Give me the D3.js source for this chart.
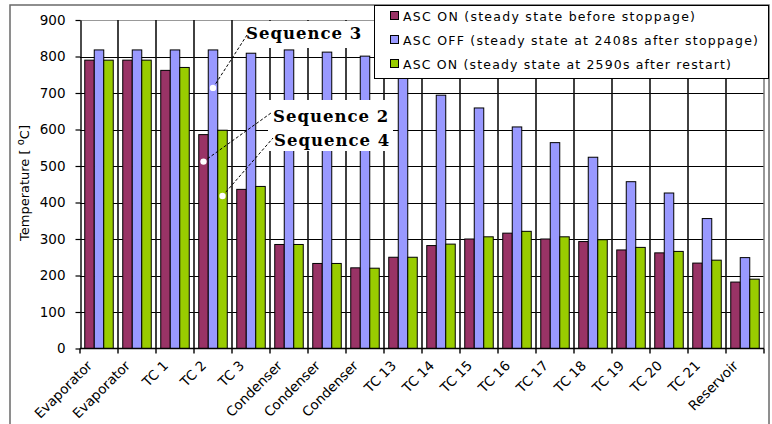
<!DOCTYPE html>
<html>
<head>
<meta charset="utf-8">
<script src="https://cdn.jsdelivr.net/npm/d3@7"></script>
<style>
  html, body { margin: 0; padding: 0; background: #fff; }
  svg { display: block; }
</style>
</head>
<body>
<svg id="chart" width="772" height="424"></svg>
<script>
// Measuring points along the loop, left to right
const categories = ["Evaporator", "Evaporator", "TC 1", "TC 2", "TC 3", "Condenser", "Condenser", "Condenser",
  "TC 13", "TC 14", "TC 15", "TC 16", "TC 17", "TC 18", "TC 19", "TC 20", "TC 21", "Reservoir"];

// Temperatures in °C
const ascOnBefore  = [790, 790, 762, 586, 436, 285, 233, 221, 250, 282, 300, 316, 300, 293, 270, 262, 234, 182];
const ascOffAfter  = [818, 818, 818, 818, 809, 818, 812, 801, 748, 694, 659, 607, 564, 524, 457, 426, 356, 249];
const ascOnRestart = [790, 790, 770, 598, 444, 285, 233, 220, 250, 286, 306, 321, 306, 298, 277, 266, 242, 190];

const seriesNames = [
  "ASC ON (steady state before stoppage)",
  "ASC OFF (steady state at 2408s after stoppage)",
  "ASC ON (steady state at 2590s after restart)"
];
const seriesColors = ["#993366", "#9999ff", "#99cc00"];
const seriesValues = [ascOnBefore, ascOffAfter, ascOnRestart];

const yTicks = [0, 100, 200, 300, 400, 500, 600, 700, 800, 900];

// Sequence markers placed on the TC 2 bars
const seqLabels = ["Sequence 3", "Sequence 2", "Sequence 4"];
const seqCategory = [3, 3, 3];
const seqSeries = [1, 0, 2];
const seqValues = [714, 512, 418];

// ---------------------------------------------------------------
const svg = d3.select("#chart");
const plot = { left: 80, right: 764, top: 20, bottom: 348.5 };

const y = d3.scaleLinear().domain([0, 900]).range([plot.bottom, plot.top]);
const x = d3.scaleBand().domain(d3.range(categories.length)).range([plot.left, plot.right])
  .paddingInner(0).paddingOuter(0);
const xs = d3.scaleBand().domain(d3.range(3)).range([0, x.bandwidth()])
  .paddingInner(0).paddingOuter(0.5);

// category boundary positions (band edges)
const edges = d3.range(categories.length + 1).map(i => plot.left + i * x.step());

// outer chart frame
svg.append("rect").attr("x", 10).attr("y", 5).attr("width", 759).attr("height", 440)
  .attr("fill", "#fff").attr("stroke", "#6a6a6a").attr("stroke-width", 1.5);

// horizontal grid
svg.append("g").attr("class", "hgrid").selectAll("line").data(yTicks.filter(t => t > 0)).join("line")
  .attr("x1", plot.left).attr("x2", plot.right)
  .attr("y1", d => Math.round(y(d)) + 0.5).attr("y2", d => Math.round(y(d)) + 0.5)
  .attr("stroke", d => d === 900 ? "#999" : "#000").attr("stroke-width", 1);

// vertical grid at category boundaries
svg.append("g").attr("class", "vgrid").selectAll("line").data(edges.slice(1, -1)).join("line")
  .attr("x1", d => d).attr("x2", d => d)
  .attr("y1", plot.top).attr("y2", plot.bottom)
  .attr("stroke", "#111").attr("stroke-width", 1.6);

// right plot border
svg.append("line").attr("x1", plot.right).attr("x2", plot.right)
  .attr("y1", plot.top).attr("y2", plot.bottom).attr("stroke", "#777").attr("stroke-width", 1.5);

// bars
const groups = svg.append("g").selectAll("g").data(seriesValues).join("g")
  .attr("fill", (d, i) => seriesColors[i]);
groups.each(function(vals, si) {
  d3.select(this).selectAll("rect").data(vals).join("rect")
    .attr("x", (v, ci) => x(ci) + xs(si))
    .attr("y", v => y(v))
    .attr("width", xs.bandwidth())
    .attr("height", v => y(0) - y(v))
    .attr("stroke", "#000").attr("stroke-width", 1);
});

// y axis
const yAxis = svg.append("g").attr("transform", `translate(${plot.left + 0.5},0)`)
  .call(d3.axisLeft(y).tickValues(yTicks).tickSize(5).tickPadding(10).tickSizeOuter(0));
yAxis.select(".domain").attr("stroke", "#000").attr("stroke-width", 1.4);
yAxis.selectAll(".tick line").attr("stroke", "#000").attr("stroke-width", 1.2);
yAxis.selectAll("text").attr("font-family", "DejaVu Sans").attr("font-size", 13.5).attr("fill", "#000");

// x axis baseline and boundary ticks
svg.append("line").attr("x1", plot.left).attr("x2", plot.right)
  .attr("y1", plot.bottom).attr("y2", plot.bottom).attr("stroke", "#000").attr("stroke-width", 1.4);
svg.append("g").attr("class", "xticks").selectAll("line").data(edges).join("line")
  .attr("x1", d => d).attr("x2", d => d)
  .attr("y1", plot.bottom).attr("y2", plot.bottom + 5)
  .attr("stroke", "#000").attr("stroke-width", 1.4);

// x labels
const xAxis = svg.append("g").attr("transform", `translate(0,${plot.bottom})`)
  .call(d3.axisBottom(x).tickSize(0).tickFormat(i => categories[i]));
xAxis.select(".domain").remove();
xAxis.selectAll("text")
  .attr("font-family", "DejaVu Sans").attr("font-size", 13.5).attr("fill", "#000")
  .attr("text-anchor", "end")
  .attr("dy", null).attr("y", null)
  .attr("transform", "translate(-6,18) rotate(-45)");

// y axis title
const yt = svg.append("text")
  .attr("transform", "translate(29,183) rotate(-90)")
  .attr("text-anchor", "middle")
  .attr("font-family", "DejaVu Sans").attr("font-size", 13).attr("fill", "#000");
yt.append("tspan").text("Temperature [ ");
yt.append("tspan").attr("font-size", 10).attr("dy", -5).text("o");
yt.append("tspan").attr("dy", 5).text("C]");

// sequence annotations
const seqText = [
  { x: 246, y: 39, lx: 247, ly: 35 },
  { x: 273, y: 122, lx: 271, ly: 113 },
  { x: 274, y: 146, lx: 273, ly: 138 }
];
svg.append("rect").attr("x", 240).attr("y", 21).attr("width", 128).attr("height", 27).attr("fill", "#fff");
svg.append("rect").attr("x", 268).attr("y", 100).attr("width", 125).attr("height", 51).attr("fill", "#fff");

seqLabels.forEach((lab, k) => {
  const cx = x(seqCategory[k]) + xs(seqSeries[k]) + xs.bandwidth() / 2;
  const cy = y(seqValues[k]);
  svg.append("line").attr("x1", cx).attr("y1", cy).attr("x2", seqText[k].lx).attr("y2", seqText[k].ly)
    .attr("stroke", "#000").attr("stroke-width", 1).attr("stroke-dasharray", "3,2");
  svg.append("circle").attr("cx", cx).attr("cy", cy).attr("r", 3.2).attr("fill", "#fff");
  svg.append("text").attr("x", seqText[k].x).attr("y", seqText[k].y)
    .attr("font-family", "DejaVu Serif").attr("font-weight", "bold").attr("font-size", 16.5)
    .attr("letter-spacing", 1).attr("fill", "#000").text(lab);
});

// legend
const lg = svg.append("g");
lg.append("rect").attr("x", 374.5).attr("y", 5.5).attr("width", 394).attr("height", 73)
  .attr("fill", "#fff").attr("stroke", "#000").attr("stroke-width", 1);
const legendY = [16, 40, 64];
const legendW = [292, 355, 328];
seriesNames.forEach((name, i) => {
  lg.append("rect").attr("x", 390.5).attr("y", legendY[i] - 4.5).attr("width", 8).attr("height", 8)
    .attr("fill", seriesColors[i]).attr("stroke", "#000").attr("stroke-width", 1);
  lg.append("text").attr("x", 403).attr("y", legendY[i] + 4.5)
    .attr("font-family", "DejaVu Sans").attr("font-size", 12.5).attr("fill", "#000")
    .attr("textLength", legendW[i]).attr("lengthAdjust", "spacing")
    .text(name);
});
</script>
</body>
</html>
